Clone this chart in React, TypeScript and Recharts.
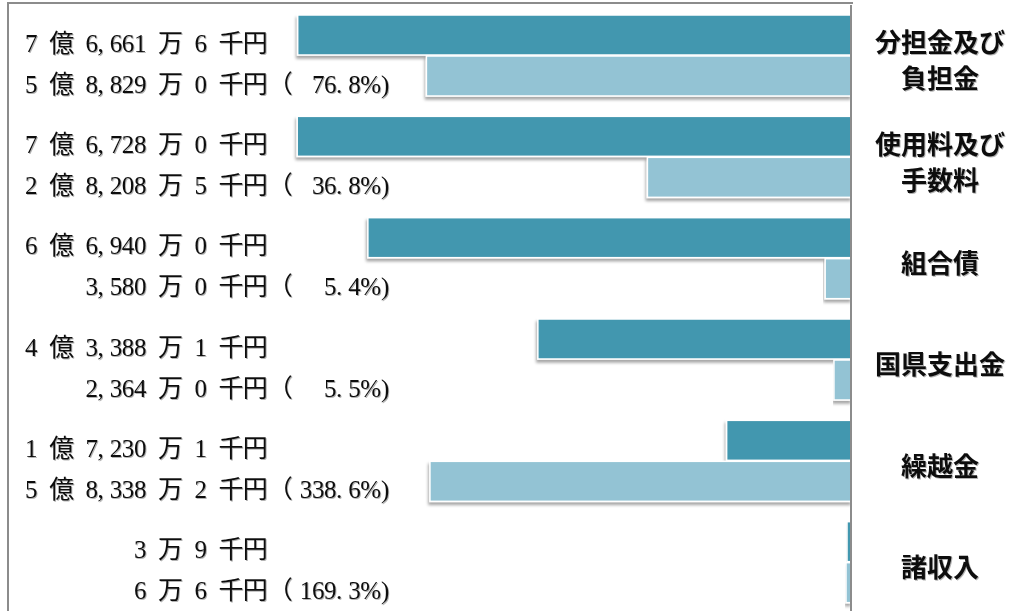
import { BarChart, Bar, XAxis, YAxis, LabelList } from "recharts";

// values in 千円
const categories = ["分担金及び\n負担金", "使用料及び\n手数料", "組合債", "国県支出金", "繰越金", "諸収入"];
const budget = [766616, 767280, 669400, 433881, 172301, 39];
const actual = [588290, 282085, 35800, 23640, 583382, 66];
const ratioLabels = ["76.8", "36.8", "5.4", "5.5", "338.6", "169.3"];

const data = categories.map((name, i) => ({ name, budget: budget[i], actual: actual[i] }));

const DARK = "#4397af";
const LIGHT = "#93c3d4";
const AXIS = "#8c8c8c";
const EM = 24.2;
const LABEL_FONT = '"Liberation Serif", "Noto Sans CJK JP", serif';
const CAT_FONT = '"Noto Sans CJK JP", sans-serif';

// 766616 -> "7 億 6,661 万 6 千円"
function yen(v: number) {
  const oku = Math.floor(v / 100000);
  const man = Math.floor((v % 100000) / 10);
  let s = "";
  if (oku) s += `${oku} 億 `;
  if (man) s += `${man.toLocaleString("en-US")} 万 `;
  return s + `${v % 10} 千円`;
}

// mincho-like cells: half width for ascii, full for the rest
const cell = (ch: string) => (ch === "%" ? 0.85 : ch.charCodeAt(0) < 128 ? 0.5 : 1) * EM;
const span = (s: string) => [...s].reduce((w, ch) => w + cell(ch), 0);

function rowMid(p: any) {
  const vb = p.viewBox || p;
  return vb.y + vb.height / 2;
}

// draws s so that it ends at `end`, one glyph per cell
function Cells({ s, end, y }: { s: string; end: number; y: number }) {
  const chars = [...s];
  let x = end - span(s);
  const xs: number[] = [];
  chars.forEach((ch) => {
    xs.push(+x.toFixed(1));
    x += cell(ch);
  });
  return (
    <text x={xs.join(" ")} y={y} dominantBaseline="central" fontFamily={LABEL_FONT} fontSize={25}
      fill="#111" filter="url(#txtShadow)">
      {s}
    </text>
  );
}

const BudgetLabel = (p: any) => <Cells s={yen(p.value)} end={267} y={rowMid(p) + 8} />;

const ActualLabel = (p: any) => {
  const y = rowMid(p) + 8;
  return (
    <g>
      <Cells s={yen(p.value)} end={267} y={y} />
      <Cells s="（" end={292} y={y} />
      <Cells s={`${ratioLabels[p.index]}%)`} end={393} y={y} />
    </g>
  );
};

const BarShape = (p: any) => {
  const x = Math.min(p.x, p.x + p.width);
  const w = Math.abs(p.width);
  return <rect x={x} y={p.y} width={w} height={p.height} fill={p.fill} stroke="#fff" strokeWidth={1.5} filter="url(#barShadow)" />;
};

const CatTick = (p: any) => {
  const lines = String(p.payload.value).split("\n");
  const top = p.y + 3 - ((lines.length - 1) * 36) / 2;
  return (
    <g filter="url(#txtShadow)">
      {lines.map((l, i) => (
        <text key={i} x={940} y={top + i * 36} textAnchor="middle" dominantBaseline="central"
          fontFamily={CAT_FONT} fontSize={26} fontWeight={700} fill="#111">
          {l}
        </text>
      ))}
    </g>
  );
};

export default function App() {
  return (
    <div style={{ position: "fixed", left: 0, top: 0, width: 1014, height: 611, overflow: "hidden", background: "#fff" }}>
      <div style={{ position: "absolute", left: 7, top: 2, width: 846, height: 700, borderTop: `2px solid ${AXIS}`, borderLeft: `2px solid ${AXIS}`, boxSizing: "border-box" }} />
      <div style={{ position: "absolute", left: 0, top: 0 }}>
        <BarChart width={1014} height={620} data={data} layout="vertical" barSize={40} barGap={1}
          margin={{ top: 5, right: 0, bottom: 7, left: 8 }}>
          <defs>
            <filter id="barShadow" x="-5%" y="-20%" width="110%" height="160%">
              <feDropShadow dx={-1} dy={3} stdDeviation={1.4} floodColor="#000" floodOpacity={0.35} />
            </filter>
            <filter id="txtShadow" x="-5%" y="-20%" width="110%" height="160%">
              <feDropShadow dx={1} dy={1} stdDeviation={0.7} floodColor="#000" floodOpacity={0.3} />
            </filter>
          </defs>
          <XAxis type="number" domain={[0, 1168000]} reversed hide allowDataOverflow />
          <YAxis type="category" dataKey="name" orientation="right" width={163} interval={0}
            axisLine={{ stroke: AXIS, strokeWidth: 2 }} tickLine={false} tick={<CatTick />} />
          <Bar dataKey="budget" fill={DARK} shape={<BarShape />} minPointSize={4} isAnimationActive={false}>
            <LabelList dataKey="budget" content={<BudgetLabel />} />
          </Bar>
          <Bar dataKey="actual" fill={LIGHT} shape={<BarShape />} minPointSize={5} isAnimationActive={false}>
            <LabelList dataKey="actual" content={<ActualLabel />} />
          </Bar>
        </BarChart>
      </div>
    </div>
  );
}
